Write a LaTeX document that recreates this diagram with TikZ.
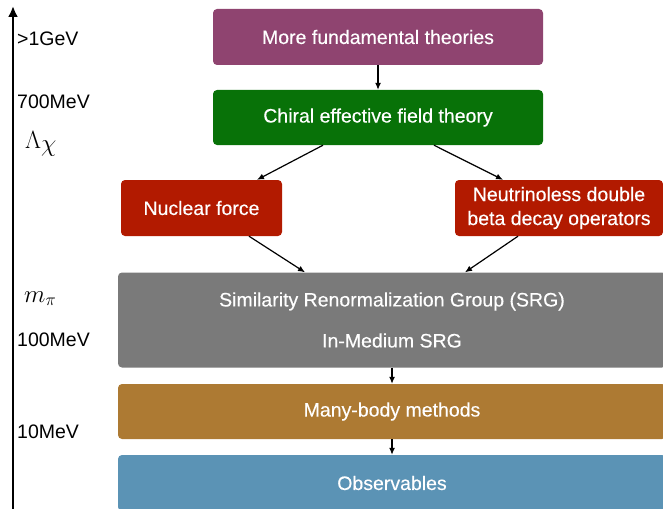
\documentclass[tikz,border=0pt]{standalone}
\usepackage{fontspec}
\newfontfamily\lib{Liberation Sans}
\newfontfamily\libm{Liberation Sans}[FakeBold=0.25]
\usetikzlibrary{arrows.meta,calc}
\definecolor{cpurple}{HTML}{8F4470}
\definecolor{cgreen}{HTML}{087208}
\definecolor{cred}{HTML}{B21A00}
\definecolor{cgray}{HTML}{7A7A7A}
\definecolor{corange}{HTML}{AD7A33}
\definecolor{cblue}{HTML}{5B93B5}
\begin{document}
\begin{tikzpicture}[x=1pt,y=-1pt,
  box/.style={rounded corners=4pt, inner sep=0pt, text=white, align=center,
    font=\libm\fontsize{19.5}{24}\selectfont},
  conn/.style={line width=1.2pt, -{Latex[length=7pt,width=6pt]}},
  axlab/.style={anchor=west, inner sep=0pt, font=\lib\fontsize{19.5}{22}\selectfont},
  mathlab/.style={anchor=base west, inner sep=0pt, font=\fontsize{27}{30}\selectfont}]
\useasboundingbox (0,0) rectangle (663,508);
\clip (0,0) rectangle (663,508);
% boxes
\node[box, fill=cpurple, minimum width=330pt, minimum height=56pt] (top) at (378,37) {More fundamental theories};
\node[box, fill=cgreen, minimum width=330pt, minimum height=55pt] (chiral) at (378,117.5) {Chiral effective field theory};
\node[box, fill=cred, minimum width=161pt, minimum height=56pt] (nuc) at (201.5,208) {Nuclear force};
\node[box, fill=cred, minimum width=208pt, minimum height=56pt] (neu) at (559,208) {Neutrinoless double\\beta decay operators};
\node[box, fill=cgray, minimum width=548pt, minimum height=95pt, font=\libm\fontsize{19.5}{41}\selectfont] (srg) at (392,320) {Similarity Renormalization Group (SRG)\\In-Medium SRG};
\node[box, fill=corange, minimum width=548pt, minimum height=55pt] (mb) at (392,411.5) {Many-body methods};
\node[box, fill=cblue, minimum width=548pt, minimum height=56pt] (obs) at (392,483) {Observables};
% connectors
\draw[conn] (top) -- (chiral);
\draw[conn] ([xshift=-55pt]chiral.south) -- ([xshift=55.5pt]nuc.north);
\draw[conn] ([xshift=56pt]chiral.south) -- ([xshift=-56pt]neu.north);
\draw[conn] ([xshift=47.5pt]nuc.south) -- ([xshift=-87pt]srg.north);
\draw[conn] ([xshift=-41pt]neu.south) -- ([xshift=73pt]srg.north);
\draw[conn] (srg) -- (mb);
\draw[conn] (mb) -- (obs);
% axis
\coordinate (axb) at (13,512);
\coordinate (axt) at (13,6);
\draw[line width=2.5pt, -{Latex[length=11pt,width=10pt]}] (axb) -- (axt);
\node[axlab] (l1) at (17,39) {>1GeV};
\node[axlab] (l2) at (17,102) {700MeV};
\node[mathlab] (l3) at (25,148) {$\Lambda_{\mbox{\fontsize{23}{23}\selectfont$\chi$}}$};
\node[mathlab] (l4) at (24,302) {$m_{\mbox{\fontsize{19}{19}\selectfont$\pi$}}$};
\node[axlab] (l5) at (17,339.5) {100MeV};
\node[axlab] (l6) at (17,432) {10MeV};
\end{tikzpicture}
\end{document}
